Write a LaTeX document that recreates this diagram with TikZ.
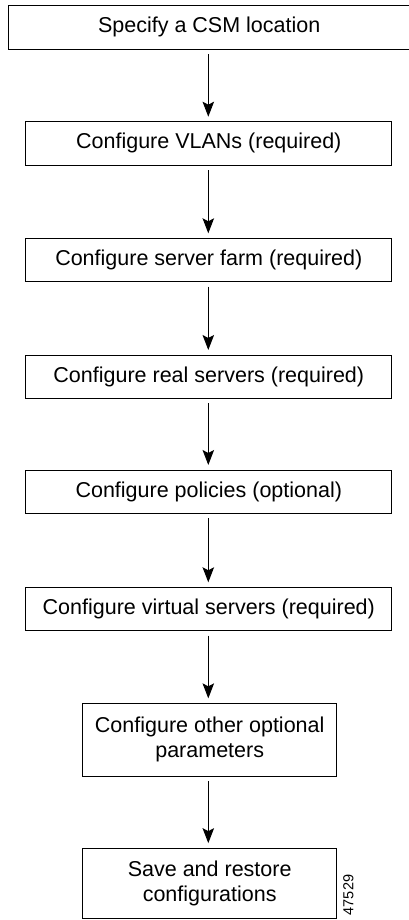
\documentclass[tikz,border=0pt]{standalone}
\usepackage{fontspec}
\setmainfont{Liberation Sans}
\usetikzlibrary{arrows.meta}
\begin{document}
\begin{tikzpicture}[x=1pt,y=-1pt,
  stepbox/.style={draw=black, line width=1pt, inner sep=0pt, outer sep=0pt,
    font=\fontsize{21.5}{25}\selectfont, align=center, fill=white},
  wide/.style={stepbox, minimum width=366pt, minimum height=43.4pt},
  narrow/.style={stepbox, minimum width=254pt, minimum height=72pt},
  flow/.style={line width=1pt, -{Stealth[length=15pt,width=11.5pt,inset=3pt]},
    shorten <=5pt, shorten >=5pt}]
\useasboundingbox (0,0) rectangle (409,920);
\node[stepbox, minimum width=401.7pt, minimum height=44.3pt] (b1) at (209.2,27.2) {Specify a CSM location};
\node[wide] (b2) at (208.8,143.4) {Configure VLANs (required)};
\node[wide] (b3) at (208.8,260.0) {Configure server farm (required)};
\node[wide] (b4) at (208.8,376.7) {Configure real servers (required)};
\node[wide] (b5) at (208.8,491.7) {Configure policies (optional)};
\node[wide] (b6) at (208.8,609.0) {Configure virtual servers (required)};
\node[narrow, minimum height=72.7pt] (b7) at (209.7,739.7) {Configure other optional\\parameters};
\node[narrow, minimum height=70.5pt] (b8) at (209.7,883.4) {Save and restore\\configurations};
\node[rotate=90, font=\fontsize{14.5}{16}\selectfont, inner sep=0pt] (id) at (348.5,895) {47529};
\coordinate (a1) at (208.3,49.3);
\draw[flow] (a1) -- (a1 |- b2.north);
\draw[flow] (b2.south -| a1) -- (b3.north -| a1);
\draw[flow] (b3.south -| a1) -- (b4.north -| a1);
\draw[flow] (b4.south -| a1) -- (b5.north -| a1);
\draw[flow] (b5.south -| a1) -- (b6.north -| a1);
\draw[flow] (b6.south -| a1) -- (b7.north -| a1);
\draw[flow] (b7.south -| a1) -- (b8.north -| a1);
\end{tikzpicture}
\end{document}
